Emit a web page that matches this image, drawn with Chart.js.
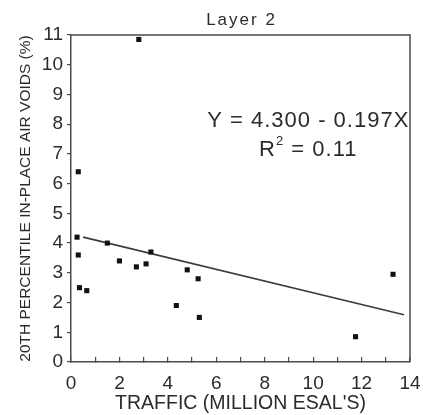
<!DOCTYPE html>
<html>
<head>
<meta charset="utf-8">
<script src="https://cdn.jsdelivr.net/npm/chart.js@4.4.1/dist/chart.umd.min.js"></script>
<style>
  html, body { margin: 0; padding: 0; background: #fff; }
  #wrap { width: 423px; height: 415px; }
</style>
</head>
<body>
<div id="wrap"><canvas id="voids"></canvas></div>
<script>
// traffic (million ESALs) vs 20th percentile in-place air voids, layer 2
const traffic = [0.25, 0.3, 0.3, 0.35, 0.65, 1.5, 2.0, 2.7, 2.8, 3.1, 3.3, 4.35, 4.8, 5.25, 5.3, 11.75, 13.3];
const airVoids = [4.2, 3.6, 6.4, 2.5, 2.4, 4.0, 3.4, 3.2, 10.85, 3.3, 3.7, 1.9, 3.1, 2.8, 1.5, 0.85, 2.95];

// regression Y = 4.300 - 0.197X, R^2 = 0.11
const intercept = 4.300;
const slope = -0.197;
const rSquared = 0.11;
const fitRange = [0.5, 13.75];

const xLabelled = [0, 2, 4, 6, 8, 10, 12, 14];
const yTicks = [0, 1, 2, 3, 4, 5, 6, 7, 8, 9, 10, 11];

const ink = '#2b2b2b';
const axisColor = '#4a4a4a';
const fontFamily = '"Liberation Sans", Arial, sans-serif';

const points = traffic.map((x, i) => ({ x: x, y: airVoids[i] }));
const fitLine = fitRange.map(x => ({ x: x, y: intercept + slope * x }));

// top and right edges of the box
const frame = {
  id: 'frame',
  afterDraw(chart) {
    const { ctx, chartArea: a } = chart;
    ctx.save();
    ctx.strokeStyle = axisColor;
    ctx.lineWidth = 1.5;
    ctx.beginPath();
    ctx.moveTo(a.left, a.top);
    ctx.lineTo(a.right, a.top);
    ctx.lineTo(a.right, a.bottom);
    ctx.stroke();
    ctx.restore();
  }
};

// heading, equation and R^2 text
const annotations = {
  id: 'annotations',
  afterDraw(chart) {
    const { ctx, scales, chartArea: a } = chart;
    ctx.save();
    ctx.fillStyle = ink;
    ctx.textBaseline = 'middle';
    ctx.textAlign = 'center';

    ctx.font = '17px ' + fontFamily;
    ctx.letterSpacing = '2px';
    ctx.fillText('Layer 2', (a.left + a.right) / 2 + 1, 20);

    const cx = scales.x.getPixelForValue(9.8);
    ctx.letterSpacing = '1px';
    ctx.font = '22px ' + fontFamily;
    const eq = 'Y = ' + intercept.toFixed(3) + ' - ' + Math.abs(slope).toFixed(3) + 'X';
    ctx.fillText(eq, cx, scales.y.getPixelForValue(8.1));

    const y2 = scales.y.getPixelForValue(7.15);
    const rest = ' = ' + rSquared.toFixed(2);
    const wR = ctx.measureText('R').width;
    const wRest = ctx.measureText(rest).width;
    ctx.font = '13px ' + fontFamily;
    const wSup = ctx.measureText('2').width;
    const x0 = cx - (wR + wSup + wRest) / 2;
    ctx.textAlign = 'left';
    ctx.font = '22px ' + fontFamily;
    ctx.fillText('R', x0, y2);
    ctx.font = '13px ' + fontFamily;
    ctx.fillText('2', x0 + wR, y2 - 8);
    ctx.font = '22px ' + fontFamily;
    ctx.fillText(rest, x0 + wR + wSup, y2);
    ctx.restore();
  }
};

new Chart(document.getElementById('voids'), {
  type: 'scatter',
  data: {
    datasets: [
      {
        label: 'Layer 2',
        data: points,
        pointStyle: 'rect',
        pointRadius: 3.6,
        pointHoverRadius: 3.6,
        backgroundColor: '#111',
        borderColor: '#111',
        borderWidth: 0
      },
      {
        type: 'line',
        label: 'fit',
        data: fitLine,
        borderColor: '#3c3c3c',
        borderWidth: 1.6,
        pointRadius: 0,
        fill: false
      }
    ]
  },
  options: {
    responsive: true,
    maintainAspectRatio: false,
    animation: false,
    layout: { padding: { left: 0, right: 0, top: 35, bottom: 0 } },
    plugins: {
      legend: { display: false },
      tooltip: { enabled: false }
    },
    scales: {
      x: {
        type: 'linear',
        min: 0,
        max: 14,
        afterFit(scale) {
          scale.height = 53;
          scale.paddingLeft = 0;
          scale.paddingRight = 13;
        },
        border: { display: true, color: axisColor, width: 1.5 },
        grid: { display: true, drawOnChartArea: false, drawTicks: true, tickLength: -5, color: axisColor, lineWidth: 1.2 },
        ticks: {
          stepSize: 1,
          autoSkip: false,
          maxRotation: 0,
          padding: 15,
          color: ink,
          font: { family: fontFamily, size: 19 },
          callback: v => xLabelled.includes(v) ? String(v) : ''
        },
        title: {
          display: true,
          text: "TRAFFIC (MILLION ESAL'S)",
          color: ink,
          font: { family: fontFamily, size: 19.5 },
          padding: { top: 0, bottom: 0 }
        }
      },
      y: {
        type: 'linear',
        min: 0,
        max: 11,
        afterFit(scale) { scale.width = 71; },
        afterBuildTicks(scale) { scale.ticks = yTicks.map(v => ({ value: v })); },
        border: { display: true, color: axisColor, width: 1.5 },
        grid: { display: true, drawOnChartArea: false, drawTicks: true, tickLength: 4, color: axisColor, lineWidth: 1.2 },
        ticks: {
          padding: 4,
          color: ink,
          font: { family: fontFamily, size: 19 }
        },
        title: {
          display: true,
          text: '20TH PERCENTILE IN-PLACE AIR VOIDS (%)',
          color: ink,
          font: { family: fontFamily, size: 15.5 },
          padding: { top: 16, bottom: 0 }
        }
      }
    }
  },
  plugins: [frame, annotations]
});
</script>
</body>
</html>
